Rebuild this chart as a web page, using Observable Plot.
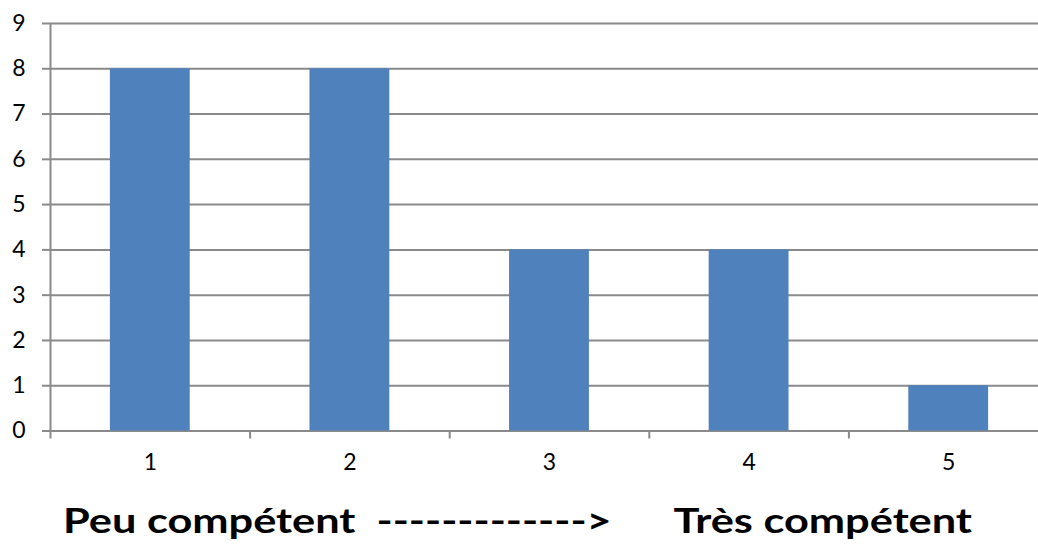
<!DOCTYPE html>
<html>
<head>
<meta charset="utf-8">
<script src="https://cdn.jsdelivr.net/npm/d3@7"></script>
<script src="https://cdn.jsdelivr.net/npm/@observablehq/plot@0.6"></script>
<style>
  html, body { margin: 0; padding: 0; background: #fff; overflow: hidden; }
  #chart svg { display: block; overflow: visible; }
  #titlewrap { width: 1038px; height: 44px; margin-top: 20px; position: relative; }
  #title { position: absolute; left: 0; top: 0; font-family: Lato, sans-serif; font-weight: bold; font-size: 34px; white-space: pre; color: #000; line-height: 40px; transform-origin: 0 0; }
</style>
</head>
<body>
<div id="chart"></div>
<div id="titlewrap"><span id="title">Peu compétent  ------------->      Très compétent</span></div>
<script>
const categories = [1, 2, 3, 4, 5];
const values = [8, 8, 4, 4, 1];
const yTicks = [0, 1, 2, 3, 4, 5, 6, 7, 8, 9];
const boundaries = [0.5, 1.5, 2.5, 3.5, 4.5, 5.5];

const data = categories.map((c, i) => ({c, v: values[i]}));
const barHalf = 0.2;
const grid = "#8a8a8a";

const plot = Plot.plot({
  width: 1038,
  height: 480,
  marginTop: 23,
  marginBottom: 49.5,
  marginLeft: 50,
  marginRight: -10,
  style: {fontFamily: "Lato, sans-serif", fontSize: "23px", color: "#000", background: "#fff"},
  x: {type: "linear", domain: [0.5, 5.5]},
  y: {domain: [0, 9]},
  marks: [
    Plot.ruleY(yTicks, {y: d => d, x1: 0.5, x2: 5.5, stroke: grid, strokeWidth: 2}),
    Plot.rectY(data, {x1: d => d.c - barHalf, x2: d => d.c + barHalf, y1: 0, y2: "v", fill: "#4F81BD"}),
    Plot.ruleX([0.5], {y1: 0, y2: 9, stroke: grid, strokeWidth: 2}),
    Plot.axisY({ticks: yTicks, tickSize: 8, tickPadding: 17, stroke: grid, strokeWidth: 2, label: null, tickFormat: d => String(d)}),
    Plot.axisX({ticks: boundaries, tickSize: 8, stroke: grid, strokeWidth: 2, tickFormat: () => "", label: null}),
    Plot.axisX({ticks: categories, tickSize: 0, tickPadding: 23, label: null, tickFormat: d => String(d)})
  ]
});
document.getElementById("chart").appendChild(plot);

// stretch the caption horizontally like the reference (spans x≈63..972)
const t = document.getElementById("title");
const w = t.getBoundingClientRect().width;
const target = 909;
const s = target / w;
t.style.left = "63px";
t.style.transform = `scaleX(${s})`;
</script>
</body>
</html>
